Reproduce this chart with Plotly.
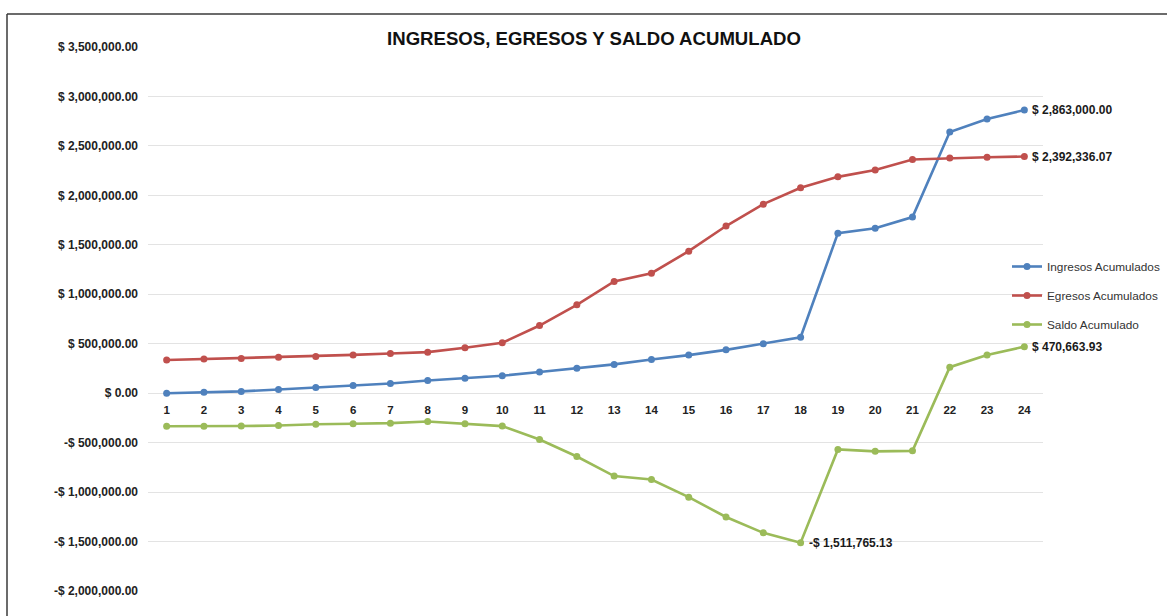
import plotly.graph_objects as go

# Meses del periodo
meses = list(range(1, 25))

# Valores acumulados por mes
ingresos_acumulados = [0, 10000, 18000, 37000, 58000, 78000, 98000, 128000,
                       152000, 176000, 215000, 253000, 291000, 340000, 385000,
                       438000, 499000, 565000, 1618000, 1668000, 1780000,
                       2640000, 2772000, 2863000]
egresos_acumulados = [335000, 345000, 350000, 364000, 372000, 387000, 401000,
                      415000, 460000, 509000, 684000, 893000, 1129000, 1213000,
                      1436000, 1690000, 1911000, 2076765.13, 2187000, 2256000,
                      2363000, 2377000, 2386000, 2392336.07]
saldo_acumulado = [-335000, -335000, -332000, -327000, -314000, -309000,
                   -303000, -287000, -308000, -333000, -469000, -640000,
                   -838000, -873000, -1051000, -1252000, -1412000,
                   -1511765.13, -569000, -588000, -583000, 263000, 386000,
                   470663.93]

# Marcas del eje vertical
y_tick_values = [3500000, 3000000, 2500000, 2000000, 1500000, 1000000, 500000,
                 0, -500000, -1000000, -1500000, -2000000]
y_tick_labels = ["$ 3,500,000.00", "$ 3,000,000.00", "$ 2,500,000.00",
                 "$ 2,000,000.00", "$ 1,500,000.00", "$ 1,000,000.00",
                 "$ 500,000.00", "$ 0.00", "-$ 500,000.00", "-$ 1,000,000.00",
                 "-$ 1,500,000.00", "-$ 2,000,000.00"]

series = [
    ("Ingresos Acumulados", ingresos_acumulados, "#4F81BD"),
    ("Egresos Acumulados", egresos_acumulados, "#C0504D"),
    ("Saldo Acumulado", saldo_acumulado, "#9BBB59"),
]

FONT = "Liberation Sans, Arial, sans-serif"

fig = go.Figure()
for name, values, color in series:
    fig.add_trace(go.Scatter(
        x=meses, y=values, name=name, mode="lines+markers",
        line=dict(color=color, width=2.6),
        marker=dict(color=color, size=7),
        legendgroup=name,
    ))


def money(v):
    s = f"$ {abs(v):,.2f}"
    return "-" + s if v < 0 else s


# Etiquetas de valor: último mes de cada serie y mínimo del saldo
labels = [
    (meses[-1], ingresos_acumulados[-1]),
    (meses[-1], egresos_acumulados[-1]),
    (meses[-1], saldo_acumulado[-1]),
]
i_min = saldo_acumulado.index(min(saldo_acumulado))
labels.append((meses[i_min], saldo_acumulado[i_min]))
for x, v in labels:
    fig.add_annotation(
        x=x, y=v, text=money(v), showarrow=False, xanchor="left",
        yanchor="middle", xshift=6,
        font=dict(family=FONT, size=12, color="#1a1a1a", weight="bold"),
    )

# Marco del gráfico (izquierda y arriba)
L, R, T, B = 148, 124, 47, 25
W, H = 1167, 616
pw, ph = W - L - R, H - T - B


def px_x(p):
    return (p - L) / pw


def px_y(p):
    return (H - B - p) / ph


fig.add_shape(type="line", xref="paper", yref="paper",
              x0=px_x(7), x1=px_x(7), y0=px_y(14), y1=px_y(620),
              line=dict(color="#3a3a3a", width=1.5))
fig.add_shape(type="line", xref="paper", yref="paper",
              x0=px_x(7), x1=px_x(1170), y0=px_y(14), y1=px_y(14),
              line=dict(color="#3a3a3a", width=1.5))

fig.update_layout(
    width=W, height=H,
    margin=dict(l=L, r=R, t=T, b=B, autoexpand=False),
    paper_bgcolor="white", plot_bgcolor="white",
    title=dict(text="INGRESOS, EGRESOS Y SALDO ACUMULADO",
               x=594 / W, xanchor="center", y=1 - 38.5 / H,
               yanchor="middle", xref="container", yref="container",
               font=dict(family=FONT, size=18.6, color="#111", weight="bold")),
    showlegend=True,
    legend=dict(x=1007 / W, y=1 - 252 / H, xref="container", yref="container",
                xanchor="left", yanchor="top",
                font=dict(family=FONT, size=11.8, color="#333"),
                tracegroupgap=10, bgcolor="rgba(0,0,0,0)", itemwidth=30),
    xaxis=dict(
        range=[0.5, 24.5], tickvals=meses, ticktext=[str(m) for m in meses],
        showgrid=False, zeroline=False, showline=False,
        ticks="outside", ticklen=6, tickcolor="rgba(0,0,0,0)",
        anchor="free", position=px_y(393),
        tickfont=dict(family=FONT, size=11.5, color="#222", weight="bold"),
    ),
    yaxis=dict(
        range=[-2000000, 3500000], tickvals=y_tick_values,
        ticktext=y_tick_labels, showgrid=True, gridcolor="#e3e3e3",
        gridwidth=1, zeroline=False, showline=False, ticks="",
        ticklabelstandoff=9,
        tickfont=dict(family=FONT, size=12, color="#222", weight="bold"),
    ),
)

fig.write_html("out.html")
